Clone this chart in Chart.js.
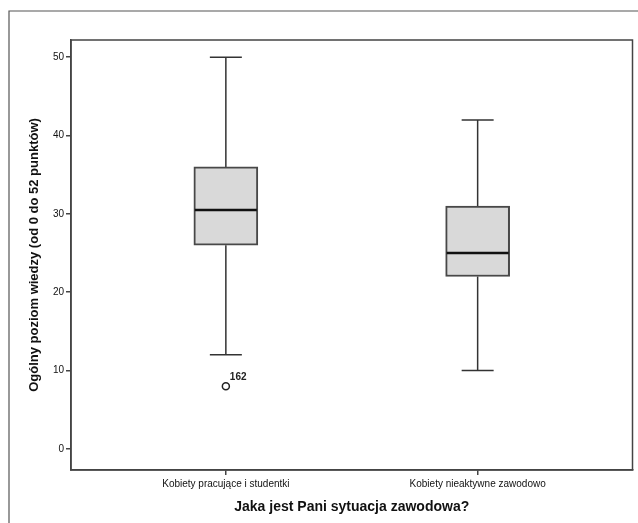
<!DOCTYPE html>
<html>
<head>
<meta charset="utf-8">
<script src="https://cdn.jsdelivr.net/npm/chart.js@4"></script>
<style>
  html, body { margin: 0; padding: 0; background: #fff; }
  #wrap { width: 638px; height: 523px; }
</style>
</head>
<body>
<div id="wrap"><canvas id="chart" width="638" height="523"></canvas></div>
<script>
// categories and box plot summaries
const categories = ["Kobiety pracujące i studentki", "Kobiety nieaktywne zawodowo"];
const positions = [1, 2];
const whiskerLow = [12, 10];
const q1 = [26, 22];
const median = [30.5, 25];
const q3 = [36, 31];
const whiskerHigh = [50, 42];

// outliers
const outlierPos = [1];
const outlierValues = [8];
const outlierLabels = ["162"];

const yTicks = [0, 10, 20, 30, 40, 50];

const LINE = "#333";

// draws whiskers, caps, medians and outlier ids using the chart scales
const boxPlotPlugin = {
  id: "boxPlot",
  beforeDatasetsDraw(chart) {
    const { ctx, scales: { x, y } } = chart;
    ctx.save();
    ctx.strokeStyle = LINE;
    ctx.lineWidth = 1.5;
    positions.forEach((p, i) => {
      const cx = x.getPixelForValue(p);
      const capHalf = 16;
      ctx.beginPath();
      ctx.moveTo(cx, y.getPixelForValue(q3[i]));
      ctx.lineTo(cx, y.getPixelForValue(whiskerHigh[i]));
      ctx.moveTo(cx, y.getPixelForValue(q1[i]));
      ctx.lineTo(cx, y.getPixelForValue(whiskerLow[i]));
      ctx.moveTo(cx - capHalf, y.getPixelForValue(whiskerHigh[i]));
      ctx.lineTo(cx + capHalf, y.getPixelForValue(whiskerHigh[i]));
      ctx.moveTo(cx - capHalf, y.getPixelForValue(whiskerLow[i]));
      ctx.lineTo(cx + capHalf, y.getPixelForValue(whiskerLow[i]));
      ctx.stroke();
    });
    ctx.restore();
  },
  afterDatasetsDraw(chart) {
    const { ctx, scales: { x, y } } = chart;
    ctx.save();
    ctx.strokeStyle = "#111";
    ctx.lineWidth = 2.4;
    positions.forEach((p, i) => {
      const cx = x.getPixelForValue(p);
      const my = y.getPixelForValue(median[i]);
      ctx.beginPath();
      ctx.moveTo(cx - 31, my);
      ctx.lineTo(cx + 31, my);
      ctx.stroke();
    });
    // outlier case numbers
    ctx.fillStyle = "#222";
    ctx.font = "bold 10px 'Liberation Sans', Arial, sans-serif";
    ctx.textAlign = "left";
    ctx.textBaseline = "bottom";
    outlierPos.forEach((p, i) => {
      ctx.fillText(outlierLabels[i], x.getPixelForValue(p) + 4, y.getPixelForValue(outlierValues[i]) - 4);
    });
    ctx.restore();
  },
  afterDraw(chart) {
    const { ctx, chartArea: a } = chart;
    ctx.save();
    // plot frame
    ctx.strokeStyle = "#444";
    ctx.lineWidth = 1.5;
    ctx.strokeRect(a.left, a.top, a.right - a.left, a.bottom - a.top);
    // outer frame (left and top edge visible)
    ctx.strokeStyle = "#555";
    ctx.lineWidth = 1.2;
    ctx.beginPath();
    ctx.moveTo(9, 523);
    ctx.lineTo(9, 11);
    ctx.lineTo(638, 11);
    ctx.stroke();
    ctx.restore();
  }
};

const ctx = document.getElementById("chart").getContext("2d");

new Chart(ctx, {
  type: "bar",
  data: {
    datasets: [
      {
        type: "bar",
        label: "box",
        data: positions.map((p, i) => ({ x: p, y: [q1[i], q3[i]] })),
        backgroundColor: "#d9d9d9",
        borderColor: "#484848",
        borderWidth: 2,
        borderSkipped: false,
        barThickness: 64,
        order: 2
      },
      {
        type: "scatter",
        label: "outliers",
        data: outlierPos.map((p, i) => ({ x: p, y: outlierValues[i] })),
        pointStyle: "circle",
        radius: 3.5,
        backgroundColor: "#fff",
        borderColor: "#222",
        borderWidth: 1.5,
        order: 1
      }
    ]
  },
  options: {
    responsive: false,
    animation: false,
    layout: { padding: { left: 0, right: 5, top: 40, bottom: 0 } },
    plugins: {
      legend: { display: false },
      tooltip: { enabled: false }
    },
    scales: {
      x: {
        type: "linear",
        offset: false,
        min: 0.385,
        max: 2.615,
        afterBuildTicks: (scale) => { scale.ticks = positions.map(v => ({ value: v })); },
        afterFit: (scale) => { scale.height = 53; },
        ticks: {
          autoSkip: false,
          maxRotation: 0,
          padding: 3,
          color: "#111",
          font: { family: "'Liberation Sans', Arial, sans-serif", size: 10 },
          callback: (v) => categories[positions.indexOf(v)]
        },
        grid: { offset: false, drawOnChartArea: false, drawTicks: true, tickLength: 5, color: "#444", lineWidth: 1.5 },
        border: { display: true, color: "#444", width: 1.5 },
        title: {
          display: true,
          text: "Jaka jest Pani sytuacja zawodowa?",
          color: "#111",
          font: { family: "'Liberation Sans', Arial, sans-serif", size: 14, weight: "bold" },
          padding: { top: 0, bottom: 7 }
        }
      },
      y: {
        min: -2.7,
        max: 52.2,
        afterBuildTicks: (scale) => { scale.ticks = yTicks.map(v => ({ value: v })); },
        afterFit: (scale) => { scale.width = 71; },
        ticks: {
          padding: 2,
          color: "#111",
          font: { family: "'Liberation Sans', Arial, sans-serif", size: 10 }
        },
        grid: { drawOnChartArea: false, drawTicks: true, tickLength: 5, color: "#444", lineWidth: 1.5 },
        border: { display: true, color: "#444", width: 1.5 },
        title: {
          display: true,
          text: "Ogólny poziom wiedzy (od 0 do 52 punktów)",
          color: "#111",
          font: { family: "'Liberation Sans', Arial, sans-serif", size: 13, weight: "bold" },
          padding: { top: 27, bottom: 0 }
        }
      }
    }
  },
  plugins: [boxPlotPlugin]
});
</script>
</body>
</html>
